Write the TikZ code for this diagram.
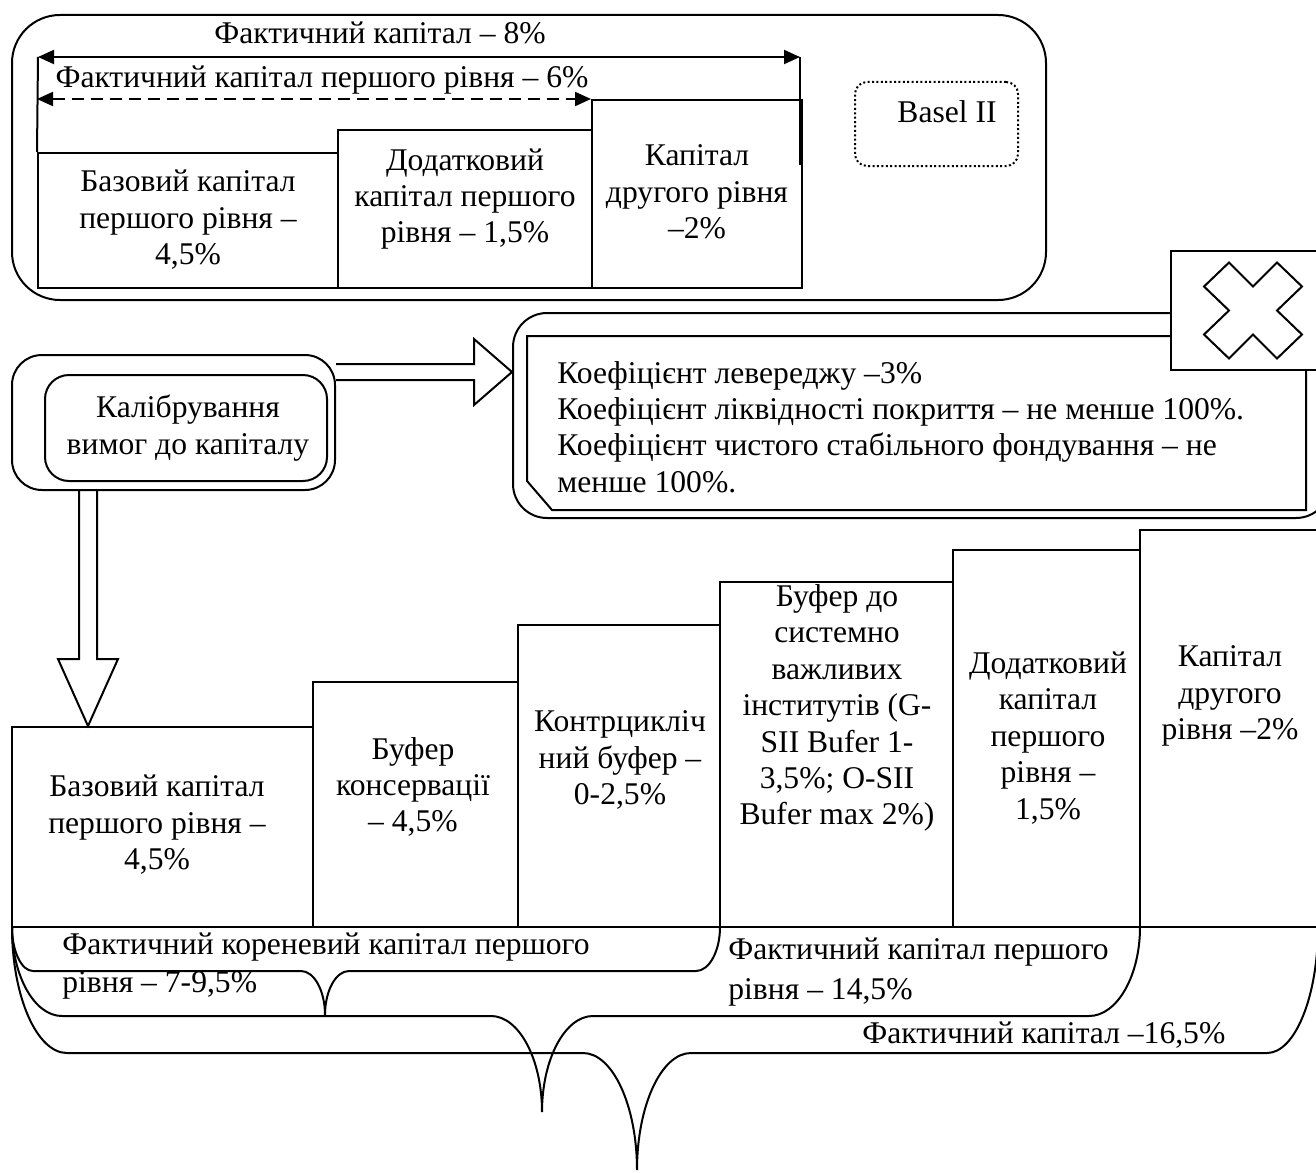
\documentclass[tikz,border=0pt]{standalone}
\usepackage{fontspec}
\setmainfont{Liberation Serif}
\usetikzlibrary{arrows.meta,positioning,calc,fit}

\begin{document}
\begin{tikzpicture}[x=0.5pt,y=-0.5pt,
        frame/.style={line width=1pt},
        box/.style={draw,line width=1pt,inner sep=0pt},
        lbl/.style={align=center,inner sep=0pt,font=\fontsize{15.8}{18.2}\selectfont},
        lbll/.style={align=left,inner sep=0pt,font=\fontsize{15.8}{18.2}\selectfont},
        span/.style={line width=1pt,{Triangle[length=8pt,width=7pt]}-{Triangle[length=8pt,width=7pt]}},
        hollow/.style={line width=1pt,line join=miter},
        brace/.style={line width=1pt}]

    \useasboundingbox (0,0) rectangle (1316,1172);

    % base line of the lower bars, left end of the braces
    \def\base{927}
    \def\lx{12}

    % Helper: brace under the bars
    % #1 level, #2 end of left corner, #3/#4 cusp, #5 cusp half width,
    % #6 start of right corner, #7 right end
    \newcommand{\capbrace}[7]{%
        \draw[brace] (\lx,\base) .. controls (\lx,{\base+0.55*(#1-\base)}) and ({#2-0.55*(#2-\lx)},#1) .. (#2,#1)
            -- ({#3-#5},#1) .. controls ({#3-0.45*#5},#1) and (#3,{#4-0.55*(#4-#1)}) .. (#3,#4)
            .. controls (#3,{#4-0.55*(#4-#1)}) and ({#3+0.45*#5},#1) .. ({#3+#5},#1)
            -- (#6,#1) .. controls ({#6+0.55*(#7-#6)},#1) and (#7,{\base+0.55*(#1-\base)}) .. (#7,\base);
    }

    % ---- Basel II ----
    \node[box,rounded corners=24pt,fit={(12,15) (1046,300)}] (basel) {};
    \node[box,fit={(38,153) (338,288)}] (oldcet) {};
    \node[box,fit={(338,130) (592,288)}] (oldat) {};
    \node[box,fit={(592,100) (802,288)}] (oldtwo) {};

    \node[lbl] (oldcet-txt) at (188,220) {Базовий капітал\\першого рівня –\\4,5\%};
    \node[lbl] (oldat-txt) at (465,199) {Додатковий\\капітал першого\\рівня – 1,5\%};
    \node[lbl] (oldtwo-txt) at (697,192) {Капітал\\другого рівня\\–2\%};

    % spans over the boxes
    \coordinate (spanl) at (38,57);
    \coordinate (spanr) at (800,57);
    \draw[frame] (spanl) -- (oldcet.north west);
    \draw[frame] (spanr) -- (800,165);
    \draw[span] (spanl) -- (spanr);
    \draw[span,dash pattern=on 6pt off 3.5pt] (oldcet.north west |- oldtwo.north) -- (oldtwo.north west);
    \node[lbl] (total-old) at (380,33) {Фактичний капітал – 8\%};
    \node[lbl] (tier-old) at (322,80) {Фактичний капітал першого рівня – 6\%};

    \node[box,rounded corners=6pt,dash pattern=on 1pt off 1.2pt,fit={(855,82) (1018,166)}] (baselii) {};
    \node[lbl] (baselii-txt) at (947,112) {Basel II};

    % ---- calibration ----
    \node[box,rounded corners=15pt,fit={(12,355) (335,490)}] (calib) {};
    \node[box,rounded corners=12pt,fit={(45,375) (327,481)}] (calibin) {};
    \node[lbl] (calib-txt) at (188,428) {Калібрування\\вимог до капіталу};

    % ---- ratios ----
    \node[box,rounded corners=17pt,fit={(513,313) (1330,518)}] (ratios) {};
    \draw[frame] (527,336) -- (527,481) -- (552,510) -- (1306,510) -- (1306,336) -- cycle;
    \node[lbll,anchor=west] (ratios-txt) at (557,427) {Коефіцієнт левереджу –3\%\\Коефіцієнт ліквідності покриття – не менше 100\%.\\Коефіцієнт чистого стабільного фондування – не\\менше 100\%.};

    \node[box,fill=white,fit={(1171,251) (1330,370)}] (xbox) {};
    \draw[frame] ($(xbox.west)+(83,0)$) ++(-24,-48) -- ++(24,24) -- ++(24,-24) -- ++(25,24) -- ++(-25,24)
        -- ++(25,24) -- ++(-25,24) -- ++(-24,-24) -- ++(-24,24) -- ++(-25,-24) -- ++(25,-24) -- ++(-25,-24) -- cycle;

    % ---- Basel III bars ----
    \foreach \name/\l/\r/\t in {cet/12/313/727, cons/313/518/682, ccyb/518/720/625,
                                sii/720/953/582, at/953/1140/550, two/1140/1330/530} {
        \node[box,fit={(\l,\t) (\r,\base)}] (\name) {};
    }

    \node[lbl] (cet-txt) at (157,825) {Базовий капітал\\першого рівня –\\4,5\%};
    \node[lbl] (cons-txt) at (413,787) {Буфер\\консервації\\– 4,5\%};
    \node[lbl] (ccyb-txt) at (620,760) {Контрцикліч\\ний буфер –\\0-2,5\%};
    \node[lbl] (sii-txt) at (837,708) {Буфер до\\системно\\важливих\\інститутів (G-\\SII Bufer 1-\\3,5\%; O-SII\\Bufer max 2\%)};
    \node[lbl] (at-txt) at (1048,738) {Додатковий\\капітал\\першого\\рівня –\\1,5\%};
    \node[lbl] (two-txt) at (1230,696) {Капітал\\другого\\рівня –2\%};

    % ---- hollow arrows ----
    \path (calib.north east) ++(0,18) coordinate (rarr);
    \draw[hollow] ($(rarr)+(0,-8)$) -- ($(ratios.west |- rarr)+(-38,-8)$) -- ++(0,-25) -- (ratios.west |- rarr)
        -- ($(ratios.west |- rarr)+(-38,33)$) -- ++(0,-25) -- ($(rarr)+(0,8)$);

    \path (calib.south west) ++(77,0) coordinate (darr);
    \draw[hollow] ($(darr)+(-9,0)$) -- ($(darr |- cet.north)+(-9,-67)$) -- ++(-21,0) -- (darr |- cet.north)
        -- ($(darr |- cet.north)+(30,-67)$) -- ++(-21,0) -- ($(darr)+(9,0)$);

    % ---- braces ----
    \capbrace{971}{33}{325}{1015}{24}{696}{720}
    \capbrace{1016}{62}{542}{1112}{51}{1089}{1140}
    \capbrace{1053}{67}{637}{1170}{54}{1267}{1318}

    \node[lbll,anchor=west] (root-txt) at (62,966) {Фактичний кореневий капітал першого\\[1pt]рівня – 7-9,5\%};
    \node[lbll,anchor=west] (tier-txt) at (728,972) {Фактичний капітал першого\\[2pt]рівня – 14,5\%};
    \node[lbll,anchor=west] (total-txt) at (862,1035) {Фактичний капітал –16,5\%};

\end{tikzpicture}
\end{document}
